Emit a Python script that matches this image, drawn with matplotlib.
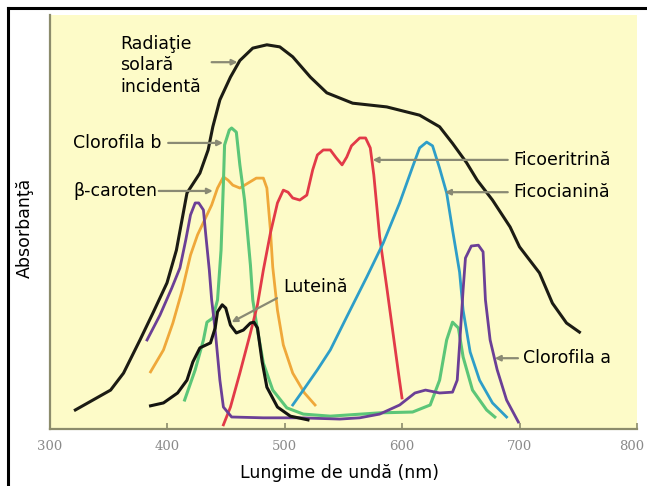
import numpy as np
import matplotlib.pyplot as plt
import matplotlib.transforms as mtransforms
from matplotlib.lines import Line2D

# wavelength (nm) and absorbance (arbitrary units, 0-100)
solar_nm = [322, 352, 363, 377, 388, 400, 408, 417, 428, 435, 439, 445, 454, 462, 473, 485,
            496, 507, 522, 536, 558, 587, 615, 632, 643, 655, 664, 677, 692, 700, 717, 728, 740, 751]
solar_abs = [4.6, 9.4, 13.5, 21.5, 28, 35.3, 43.2, 57, 61.8, 67.4, 73, 79.5, 85, 89, 92, 92.8,
             92.3, 89.9, 85, 81.2, 78.7, 77.8, 75.8, 73, 69, 64.3, 60.1, 55.3, 48.8, 44, 37.7, 30.4, 25.6, 23.4]

chl_b_nm = [415, 424, 431, 434, 439, 443, 446, 448, 449, 453, 455, 459, 462, 466, 471, 473, 477,
            482, 490, 502, 516, 539, 581, 609, 624, 632, 638, 643, 648, 652, 660, 672, 679]
chl_b_abs = [7, 14.3, 21.5, 25.8, 26.8, 31.2, 43.2, 59.4, 68.6, 72.2, 72.7, 71.7, 63.8, 55.3, 39.6, 31.2, 23.9,
             15.9, 9.4, 5.1, 3.6, 3.1, 3.9, 4.1, 5.8, 11.8, 21.5, 25.8, 24.4, 17.4, 9.4, 4.6, 2.9]

carot_nm = [386, 397, 405, 413, 420, 426, 432, 438, 443, 448, 452, 456, 462, 469, 476, 482,
            485, 488, 490, 494, 499, 507, 517, 526]
carot_abs = [13.8, 19.1, 25.6, 33.6, 42, 46.9, 50.5, 54.1, 58.2, 60.9, 60.1, 58.9, 58.2, 59.4, 60.6, 60.6,
             58.2, 48.1, 39.1, 28.7, 20.3, 13.5, 8.7, 5.8]

chl_a_nm = [383, 394, 404, 411, 416, 420, 424, 427, 431, 433, 436, 438, 441, 445, 448, 455, 482,
            513, 547, 564, 581, 598, 611, 620, 632, 643, 647, 649, 652, 654, 659, 665, 669, 671,
            675, 681, 689, 699]
chl_a_abs = [21.5, 27.5, 34, 38.9, 45.7, 51.7, 54.6, 54.6, 52.9, 46.9, 38.4, 31.2, 23.9, 11.8, 5.3, 2.9, 2.7,
             2.7, 2.4, 2.7, 3.6, 5.8, 8.7, 9.4, 8.7, 8.9, 11.8, 20.3, 33.6, 41.3, 44.2, 44.4, 42.8, 31.2,
             21.5, 14.3, 7, 1.7]

phycoery_nm = [448, 454, 462, 471, 477, 482, 488, 494, 499, 503, 507, 513, 519, 524, 528, 533,
               539, 544, 549, 553, 557, 564, 569, 573, 576, 581, 587, 592, 597, 600]
phycoery_abs = [1, 5.3, 13.5, 23.2, 30, 38.4, 47.3, 54.6, 57.7, 57.2, 55.8, 55.3, 56.5, 62.6, 66.2, 67.4,
                67.4, 65.5, 63.8, 65.7, 68.4, 70.3, 70.3, 67.9, 61.4, 46.4, 34.3, 23.9, 13.5, 7.5]

phycocy_nm = [507, 516, 528, 539, 553, 570, 584, 598, 609, 615, 621, 626, 632, 638, 643, 649,
              652, 658, 666, 677, 689]
phycocy_abs = [5.8, 9.4, 14.3, 19.1, 27.1, 36.7, 44.9, 54.6, 63.3, 67.9, 69.3, 68.4, 63, 57, 48.1, 37.9,
               28.7, 18.6, 11.8, 6.3, 2.9]

lutein_nm = [386, 397, 409, 417, 422, 428, 437, 441, 443, 447, 450, 454, 459, 465, 471, 474,
             477, 481, 485, 494, 505, 520]
lutein_abs = [5.6, 6.3, 8.7, 11.8, 16.2, 19.6, 20.8, 24.4, 28.3, 30, 29.2, 25.1, 23.2, 23.9, 25.6, 25.8,
              24.4, 16.2, 10.1, 5.3, 3.1, 2.2]

x_ticks = [300, 400, 500, 600, 700, 800]

axis_col = '#8c8c6c'
arrow_col = '#8a8a74'
fs = 12.5

fig = plt.figure(figsize=(6.47, 4.86), dpi=100)
ax = fig.add_axes([49.5 / 647, 57 / 486, 587.5 / 647, 414 / 486])
ax.set_facecolor('#fdfbc8')

ax.plot(solar_nm, solar_abs, color='#1c1c14', lw=2.2, solid_joinstyle='round')
ax.plot(carot_nm, carot_abs, color='#efa83a', lw=2, solid_joinstyle='round')
ax.plot(chl_b_nm, chl_b_abs, color='#5cc678', lw=2.2, solid_joinstyle='round')
ax.plot(phycoery_nm, phycoery_abs, color='#e23a48', lw=2, solid_joinstyle='round')
ax.plot(phycocy_nm, phycocy_abs, color='#2e9ec8', lw=2, solid_joinstyle='round')
ax.plot(chl_a_nm, chl_a_abs, color='#6b3f96', lw=2, solid_joinstyle='round')
ax.plot(lutein_nm, lutein_abs, color='#141410', lw=2.2, solid_joinstyle='round')

ax.set_xlim(300, 800)
ax.set_ylim(0, 100)
ax.set_xticks(x_ticks)
ax.set_yticks([])
ax.tick_params(axis='x', direction='in', length=4, width=1.2, color=axis_col, pad=8,
               labelsize=9.5, labelcolor='#8a8a8a')
for lab in ax.get_xticklabels():
    lab.set_family('DejaVu Serif')
# nudge the last tick label so it stays inside the picture
last = ax.get_xticklabels()[-1]
last.set_transform(last.get_transform() + mtransforms.ScaledTranslation(-5 / 100, 0, fig.dpi_scale_trans))
for s in ['top', 'right']:
    ax.spines[s].set_visible(False)
for s in ['left', 'bottom']:
    ax.spines[s].set_color(axis_col)
    ax.spines[s].set_linewidth(1.6)

ax.set_xlabel('Lungime de undă (nm)', fontsize=fs)
ax.xaxis.set_label_coords(0.494, -0.085)
ax.set_ylabel('Absorbanţă', fontsize=fs)
ax.yaxis.set_label_coords(-0.026, 0.486)

# labels with arrows
arr = dict(arrowstyle='-|>', color=arrow_col, lw=1.6, mutation_scale=8, shrinkA=0, shrinkB=0)
ax.text(360, 87.9, 'Radiaţie\nsolară\nincidentă', fontsize=fs, ha='left', va='center', linespacing=1.25)
ax.annotate('', xy=(460, 88.6), xytext=(438, 88.6), arrowprops=arr)
ax.text(395.7, 69.1, 'Clorofila b', fontsize=fs, ha='right', va='center')
ax.annotate('', xy=(447.7, 69.1), xytext=(401, 69.1), arrowprops=arr)
ax.text(391.5, 57.5, 'β-caroten', fontsize=fs, ha='right', va='center')
ax.annotate('', xy=(439, 57.5), xytext=(393, 57.5), arrowprops=arr)
ax.text(694.5, 65, 'Ficoeritrină', fontsize=fs, ha='left', va='center')
ax.annotate('', xy=(575, 65), xytext=(690, 65), arrowprops=arr)
ax.text(694.5, 57.2, 'Ficocianină', fontsize=fs, ha='left', va='center')
ax.annotate('', xy=(636.6, 57.2), xytext=(690, 57.2), arrowprops=arr)
ax.text(498.7, 34.3, 'Luteină', fontsize=fs, ha='left', va='center')
ax.annotate('', xy=(455, 25.8), xytext=(493.6, 31.6), arrowprops=arr)
ax.text(703, 17.1, 'Clorofila a', fontsize=fs, ha='left', va='center')
ax.annotate('', xy=(679, 17.1), xytext=(698.7, 17.1), arrowprops=arr)

# black frame along the left and top edges
fig.add_artist(Line2D([8 / 647, 8 / 647], [0, 1 - 8 / 486], color='black', lw=2.2))
fig.add_artist(Line2D([8 / 647, 1], [1 - 8 / 486, 1 - 8 / 486], color='black', lw=2.2))

fig.savefig('out.png', dpi=100)
